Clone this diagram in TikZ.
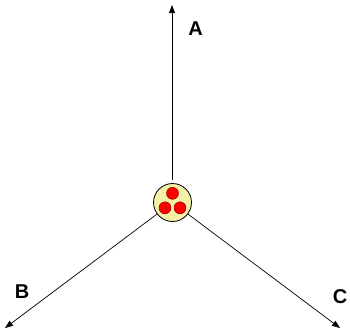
\documentclass[tikz,border=0pt]{standalone}
\usepackage{fontspec}
\setmainfont{Liberation Sans}
\usetikzlibrary{arrows.meta}
\begin{document}
\begin{tikzpicture}[x=1pt,y=-1pt,
  conn/.style={draw=black,line width=0.7pt,-{Triangle[length=8pt,width=6pt]}},
  lbl/.style={font=\fontsize{20}{24}\selectfont\bfseries,inner sep=0pt},
  hub/.style={circle,draw=black,line width=0.8pt,fill=yellow!25!white!90!olive,minimum size=38pt,inner sep=0pt},
  dot/.style={circle,draw=red!60!black,line width=0.5pt,fill=red,minimum size=12pt,inner sep=0pt}]
\useasboundingbox (0,0) rectangle (350,332);
\node[hub] (h) at (172.5,202.5) {};
\node[dot] (d1) at (172.5,193.3) {};
\node[dot] (d2) at (165,207.8) {};
\node[dot] (d3) at (180,207.8) {};
\coordinate (a) at (172,5);
\coordinate (b) at (5,328);
\coordinate (c) at (340,328);
\coordinate (hs) at (172,180);
\draw[conn] (hs) -- (a);
\draw[conn] (h) -- (b);
\draw[conn] (h) -- (c);
\node[lbl] (la) at (195.5,29) {A};
\node[lbl] (lb) at (22,292) {B};
\node[lbl] (lc) at (340,297) {C};
\end{tikzpicture}
\end{document}
